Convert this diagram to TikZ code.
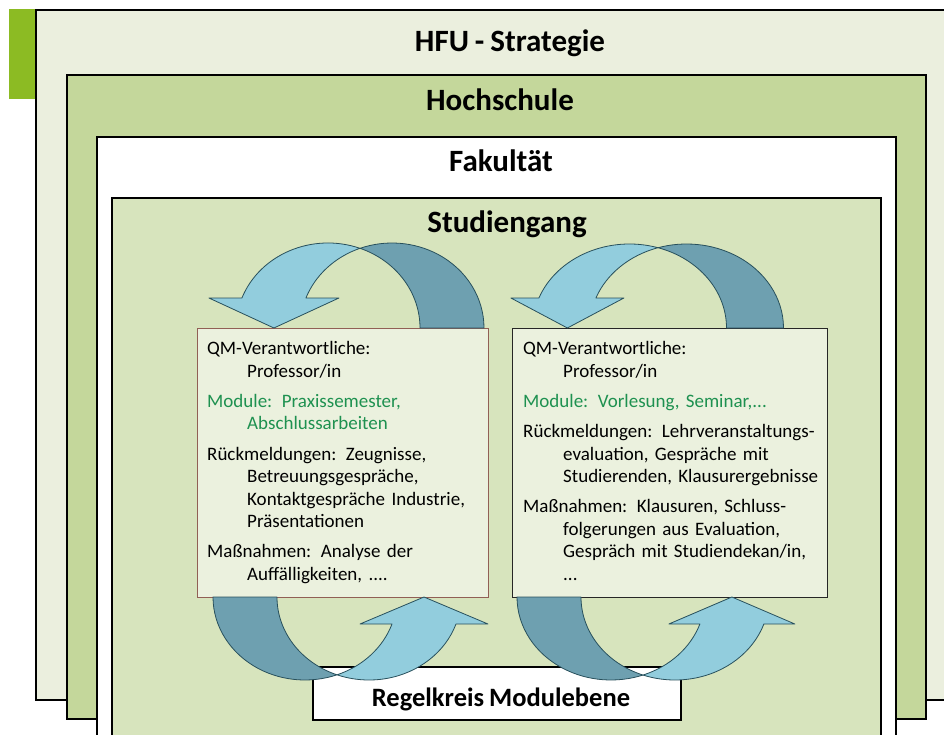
\documentclass[tikz,border=0pt]{standalone}
\usepackage{fontspec}
\setmainfont{Carlito}[WordSpace=0.85]
\usepackage{tikz}

\definecolor{tabgreen}{RGB}{140,187,35}
\definecolor{hfubg}{RGB}{235,239,222}
\definecolor{hsbg}{RGB}{196,215,155}
\definecolor{sgbg}{RGB}{215,228,189}
\definecolor{qmbg}{RGB}{235,241,222}
\definecolor{qmred}{RGB}{145,95,85}
\definecolor{modgreen}{RGB}{30,145,80}
\definecolor{arrowlight}{RGB}{146,205,221}
\definecolor{arrowdark}{RGB}{110,160,176}
\definecolor{arrowline}{RGB}{40,80,92}

\tikzset{levelframe/.style={draw=black, line width=1.8pt, anchor=north west, inner sep=0pt, outer sep=0pt}}
\tikzset{leveltitle/.style={anchor=base, inner sep=0pt, font=\fontsize{31}{37}\selectfont\bfseries}}
\tikzset{qmbox/.style={fill=qmbg, line width=1.4pt, anchor=north west, inner sep=0pt}}
\tikzset{qmtext/.style={anchor=base west, text width=330pt, inner sep=0pt, font=\fontsize{19}{22.6}\selectfont}}
\tikzset{darkband/.style={fill=arrowdark, draw=arrowline, line width=0.8pt, line join=round}}
\tikzset{lightband/.style={fill=arrowlight, draw=arrowline, line width=0.8pt, line join=round}}

% one paragraph with hanging indent
\newcommand{\qmpar}[1]{\par\hangindent=40pt\hangafter=1\noindent{#1}\par\vspace{7.5pt}}

% curved loop arrow: #1 scope options, #2 x radius, #3 y radius, #4 band width, #5 head height, #6 wing
\newcommand{\loopshape}[6]{%
  \begin{scope}[#1]
    \pgfmathsetmacro\angI{acos(#4/(2*#2))}
    \pgfmathsetmacro\angH{asin(#5/#3)}
    \pgfmathsetmacro\hoffx{#2*cos(\angH)}
    \draw[darkband] ({#4/2+#2},0) arc[start angle=0, end angle={-(180-\angI)}, x radius=#2, y radius=#3]
      arc[start angle={-\angI}, end angle=0, x radius=#2, y radius=#3] -- cycle;
    \draw[lightband] ({-#4/2-\hoffx},{-#5}) arc[start angle={-(180-\angH)}, end angle={-\angI}, x radius=#2, y radius=#3]
      arc[start angle={-(180-\angI)}, end angle={-(180-\angH)}, x radius=#2, y radius=#3]
      -- ++(#6,0) -- ({-\hoffx},0) -- ({-#4/2-\hoffx-#6},{-#5}) -- cycle;
  \end{scope}}

\begin{document}
\begin{tikzpicture}[x=1pt, y=-1pt]
    \useasboundingbox (0,0) rectangle (944,735);
    \clip (0,0) rectangle (944,735);

    % levels
    \fill[tabgreen] (9,9) rectangle (36,99);
    \node[levelframe, fill=hfubg, minimum width=930pt, minimum height=690pt] (hfu) at (36,10) {};
    \node[levelframe, fill=hsbg, minimum width=859pt, minimum height=644pt] (hs) at (67,75) {};
    \node[levelframe, fill=white, minimum width=799pt, minimum height=640pt] (fak) at (97,137) {};
    \node[levelframe, fill=sgbg, minimum width=769pt, minimum height=580pt] (sg) at (112,198) {};

    \node[leveltitle] (hfuT) at (510,52) {HFU - Strategie};
    \node[leveltitle] (hsT) at (500,111) {Hochschule};
    \node[leveltitle] (fakT) at (501,172) {Fakultät};
    \node[leveltitle] (sgT) at (507,233) {Studiengang};

    % bottom label
    \node[draw=black, fill=white, line width=1.6pt, anchor=north west, inner sep=0pt,
          minimum width=368pt, minimum height=53pt] (regel) at (312,666) {};
    \node[anchor=base, inner sep=0pt, font=\fontsize{26.5}{31}\selectfont\bfseries] (regelT) at (501,706) {Regelkreis Modulebene};

    % module boxes
    \node[qmbox, draw=qmred, minimum width=291pt, minimum height=269pt] (boxL) at (197,328) {};
    \node[qmbox, draw=black!85, minimum width=315pt, minimum height=269pt] (boxR) at (512,328) {};

    \node[qmtext] (txtL) at ([shift={(10,4)}]boxL.north west) {%
      \qmpar{QM-Verantwortliche:\newline Professor/in}%
      \qmpar{\color{modgreen}Module: Praxissemester,\newline Abschlussarbeiten}%
      \qmpar{Rückmeldungen: Zeugnisse,\newline Betreuungsgespräche,\newline Kontaktgespräche Industrie,\newline Präsentationen}%
      \qmpar{Maßnahmen: Analyse der\newline Auffälligkeiten, ....}};
    \node[qmtext] (txtR) at ([shift={(11,4)}]boxR.north west) {%
      \qmpar{QM-Verantwortliche:\newline Professor/in}%
      \qmpar{\color{modgreen}Module: Vorlesung, Seminar,...}%
      \qmpar{Rückmeldungen: Lehrveranstaltungs-\newline evaluation, Gespräche mit\newline Studierenden, Klausurergebnisse}%
      \qmpar{Maßnahmen: Klausuren, Schluss-\newline folgerungen aus Evaluation,\newline Gespräch mit Studiendekan/in,\newline ...}};

    % loop arrows
    \loopshape{shift={(360,328)}}{92}{85}{64}{30}{33}
    \loopshape{shift={(658,328)}}{97}{84}{57}{30}{28}
    \loopshape{shift={(337,597)}, rotate=180}{92}{83}{64}{27}{32}
    \loopshape{shift={(643,597)}, rotate=180}{94}{83}{64}{27}{31}

\end{tikzpicture}
\end{document}
